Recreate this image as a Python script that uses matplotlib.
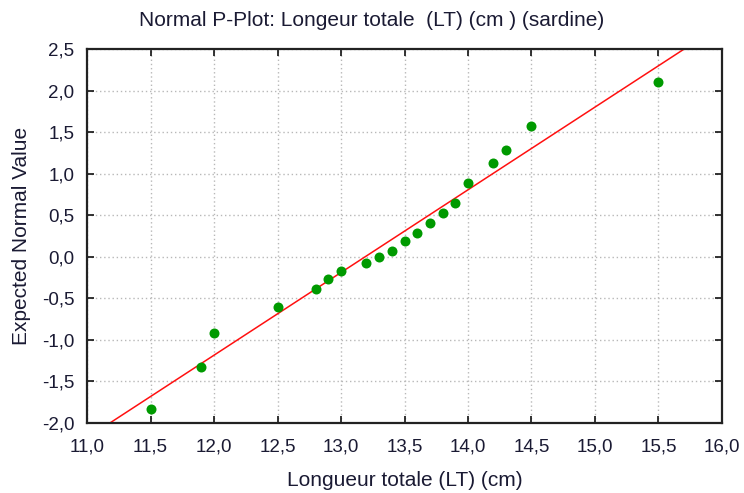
import numpy as np
import matplotlib
matplotlib.use("Agg")
import matplotlib.pyplot as plt

plt.rcParams['font.family'] = ['Liberation Sans', 'DejaVu Sans']

# Observed lengths (cm) and their expected normal values
lengths = [11.5, 11.9, 12.0, 12.5, 12.8, 12.9, 13.0, 13.2, 13.3, 13.4,
           13.5, 13.6, 13.7, 13.8, 13.9, 14.0, 14.2, 14.3, 14.5, 15.5]
expected = [-1.83, -1.33, -0.92, -0.60, -0.39, -0.27, -0.17, -0.07, 0.00, 0.07,
            0.19, 0.29, 0.41, 0.53, 0.65, 0.89, 1.13, 1.28, 1.57, 2.10]

# Reference normal line parameters
line_mean = 13.19
line_sd = 1.005

x_ticks = [11.0, 11.5, 12.0, 12.5, 13.0, 13.5, 14.0, 14.5, 15.0, 15.5, 16.0]
x_tick_labels = ["11,0", "11,5", "12,0", "12,5", "13,0", "13,5",
                 "14,0", "14,5", "15,0", "15,5", "16,0"]
y_ticks = [-2.0, -1.5, -1.0, -0.5, 0.0, 0.5, 1.0, 1.5, 2.0, 2.5]
y_tick_labels = ["-2,0", "-1,5", "-1,0", "-0,5", "0,0", "0,5",
                 "1,0", "1,5", "2,0", "2,5"]

fig = plt.figure(figsize=(7.44, 4.93), dpi=100)
ax = fig.add_axes([0.117, 0.142, 0.8534, 0.7586])

text_color = "#1a1a33"

ax.grid(True, linestyle=(0, (1, 2)), color="#b8b8b8", linewidth=1.0)
ax.set_axisbelow(True)

xs = np.linspace(x_ticks[0], x_ticks[-1], 200)
ax.plot(xs, (xs - line_mean) / line_sd, color="#ff1010", linewidth=1.1, zorder=2)

ax.plot(lengths, expected, linestyle="none", marker="o", markersize=7.2,
        color="#009a00", markeredgewidth=0, zorder=3)

ax.set_xlim(x_ticks[0], x_ticks[-1])
ax.set_ylim(y_ticks[0], y_ticks[-1])
ax.set_xticks(x_ticks)
ax.set_xticklabels(x_tick_labels)
ax.set_yticks(y_ticks)
ax.set_yticklabels(y_tick_labels)

ax.tick_params(direction="in", length=5, width=1.2, top=True, right=True,
               labelsize=13.5, colors="#111111", labelcolor=text_color)
ax.tick_params(axis="x", pad=11)
ax.tick_params(axis="y", pad=9)
for s in ax.spines.values():
    s.set_color("#222222")
    s.set_linewidth(1.6)

ax.set_xlabel("Longueur totale (LT) (cm)", fontsize=15, color=text_color, labelpad=11)
ax.set_ylabel("Expected Normal Value", fontsize=15, color=text_color, labelpad=8)
fig.text(0.5, 0.959, "Normal P-Plot: Longeur totale  (LT) (cm ) (sardine)",
         ha="center", va="center", fontsize=15, color=text_color)

fig.savefig("out.png", dpi=100, facecolor="white")
